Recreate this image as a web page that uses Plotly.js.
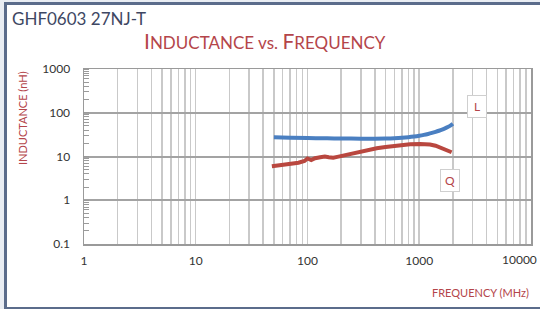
<!DOCTYPE html>
<html>
<head>
<meta charset="utf-8">
<script src="https://cdn.plot.ly/plotly-3.0.1.min.js"></script>
<style>
html,body{margin:0;padding:0;background:#e9edf3;width:540px;height:309px;overflow:hidden;}
#frame{position:absolute;left:4px;top:2px;width:536px;height:302px;background:#fff;border-left:3px solid #5b6c8b;border-top:3px solid #5b6c8b;border-bottom:3px solid #5b6c8b;box-sizing:content-box;}
#chart{position:absolute;left:0;top:0;width:540px;height:309px;}
</style>
</head>
<body>
<div id="frame"></div>
<div id="chart"></div>
<script>
// Data
const freqL = [50, 70, 100, 150, 200, 300, 400, 500, 600, 700, 800, 900, 1000, 1100, 1200, 1300, 1400, 1500, 1600, 1700, 1800, 1900, 2000];
const inductance = [27.5, 27, 26.5, 26, 25.8, 25.6, 25.6, 25.8, 26.2, 26.8, 27.6, 28.6, 29.8, 31.2, 32.8, 34.6, 36.6, 38.8, 41.2, 44, 47.2, 50.8, 56];
const freqQ = [48, 55, 63, 72, 83, 94, 100, 108, 117, 130, 143, 155, 170, 185, 202, 225, 248, 275, 305, 350, 416, 500, 586, 700, 827, 1016, 1150, 1248, 1400, 1534, 1700, 1950];
const qFactor = [6.0, 6.2, 6.5, 6.8, 7.2, 7.9, 9.0, 8.3, 9.1, 9.6, 10.0, 9.6, 9.4, 9.8, 10.3, 11.0, 11.6, 12.3, 13.3, 14.2, 15.4, 16.4, 17.4, 18.2, 19.0, 19.3, 19.2, 18.7, 17.6, 16.2, 14.6, 12.5];
const xDecades = [1, 10, 100, 1000, 10000];
const xTickLabels = ["1", "10", "100", "1000", "10000"];
const yDecades = [0.1, 1, 10, 100, 1000];
const yTickLabels = ["0.1", "1", "10", "100", "1000"];

// all 1..9 positions per decade for vertical gridlines; the last decade label
// sits against the right edge, so it is drawn as an axis-anchored annotation
const xGridVals = [];
const xGridText = [];
for (let d = 0; d < 4; d++) {
  for (let m = 1; m <= 9; m++) {
    const v = m * Math.pow(10, d);
    xGridVals.push(v);
    const i = xDecades.indexOf(v);
    xGridText.push(i >= 0 ? xTickLabels[i] : "");
  }
}
xGridVals.push(10000); xGridText.push("");

const FONT = "Lato, 'Open Sans', sans-serif";
const RED = "#b4454a";

const traces = [
  {x: freqL, y: inductance, type: "scatter", mode: "lines", line: {color: "#4a7fc1", width: 4, shape: "spline"}, hoverinfo: "skip"},
  {x: freqQ, y: qFactor, type: "scatter", mode: "lines", line: {color: "#b9473f", width: 4}, hoverinfo: "skip"}
];

const layout = {
  width: 540, height: 309,
  margin: {l: 84, r: 9, t: 69, b: 65},
  paper_bgcolor: "rgba(0,0,0,0)",
  plot_bgcolor: "#fff",
  showlegend: false,
  font: {family: FONT, color: "#333", size: 12},
  xaxis: {
    type: "log", range: [0, 4.0002],
    tickmode: "array", tickvals: xGridVals, ticktext: xGridText,
    ticks: "", ticklabelstandoff: 5, showgrid: true, gridcolor: "#c9c9c9", gridwidth: 1.5,
    showline: true, linecolor: "#9a9a9a", linewidth: 1.5, mirror: true, automargin: false,
    zeroline: false, tickfont: {size: 12, color: "#333", family: FONT}
  },
  yaxis: {
    type: "log", range: [-1, 3],
    tickmode: "array", tickvals: yDecades, ticktext: yTickLabels,
    ticks: "", ticklabelstandoff: 10, showgrid: true, gridcolor: "#a3a3a3", gridwidth: 2,
    showline: true, linecolor: "#9a9a9a", linewidth: 1.5, mirror: true,
    zeroline: false, tickfont: {size: 12, color: "#333", family: FONT},
    minor: {ticks: "inside", ticklen: 5, tickcolor: "#9a9a9a", tickwidth: 1, dtick: "D1", showgrid: false}
  },
  annotations: [
    {xref: "x", yref: "paper", x: Math.log10(xDecades[4]), y: 0, yshift: -6, xshift: -11,
     xanchor: "center", yanchor: "top", text: xTickLabels[4], showarrow: false,
     font: {family: FONT, size: 12, color: "#333"}},
    {xref: "paper", yref: "paper", x: (10 - 84) / 447, y: (244 - 19) / 175, xanchor: "left", yanchor: "middle",
     text: "GHF0603 27NJ-T", showarrow: false, font: {family: FONT, size: 17, color: "#3e4763"}},
    {xref: "paper", yref: "paper", x: (265 - 84) / 447, y: (244 - 40) / 175, xanchor: "center", yanchor: "middle",
     text: "<span style='font-size:21px'>I</span>NDUCTANCE vs. <span style='font-size:21px'>F</span>REQUENCY",
     showarrow: false, font: {family: FONT, size: 17, color: RED}},
    {xref: "paper", yref: "paper", x: (22 - 84) / 447, y: (244 - 118) / 175, xanchor: "center", yanchor: "middle",
     text: "INDUCTANCE (nH)", textangle: -90, showarrow: false, font: {family: FONT, size: 11, color: RED}},
    {xref: "paper", yref: "paper", x: 1, y: (244 - 292) / 175, xanchor: "right", yanchor: "middle",
     text: "FREQUENCY (MHz)", showarrow: false, font: {family: FONT, size: 11, color: RED}},
    {x: Math.log10(3289), y: Math.log10(142.6), xref: "x", yref: "y", text: "L", showarrow: false,
     bgcolor: "#fff", bordercolor: "#cfcfcf", borderwidth: 1, borderpad: 3, width: 12,
     font: {family: FONT, size: 12, color: RED}},
    {x: Math.log10(1872), y: Math.log10(2.9), xref: "x", yref: "y", text: "Q", showarrow: false,
     bgcolor: "#fff", bordercolor: "#cfcfcf", borderwidth: 1, borderpad: 3, width: 12,
     font: {family: FONT, size: 12, color: RED}}
  ]
};

Plotly.newPlot("chart", traces, layout, {staticPlot: true, displayModeBar: false});
</script>
</body>
</html>
